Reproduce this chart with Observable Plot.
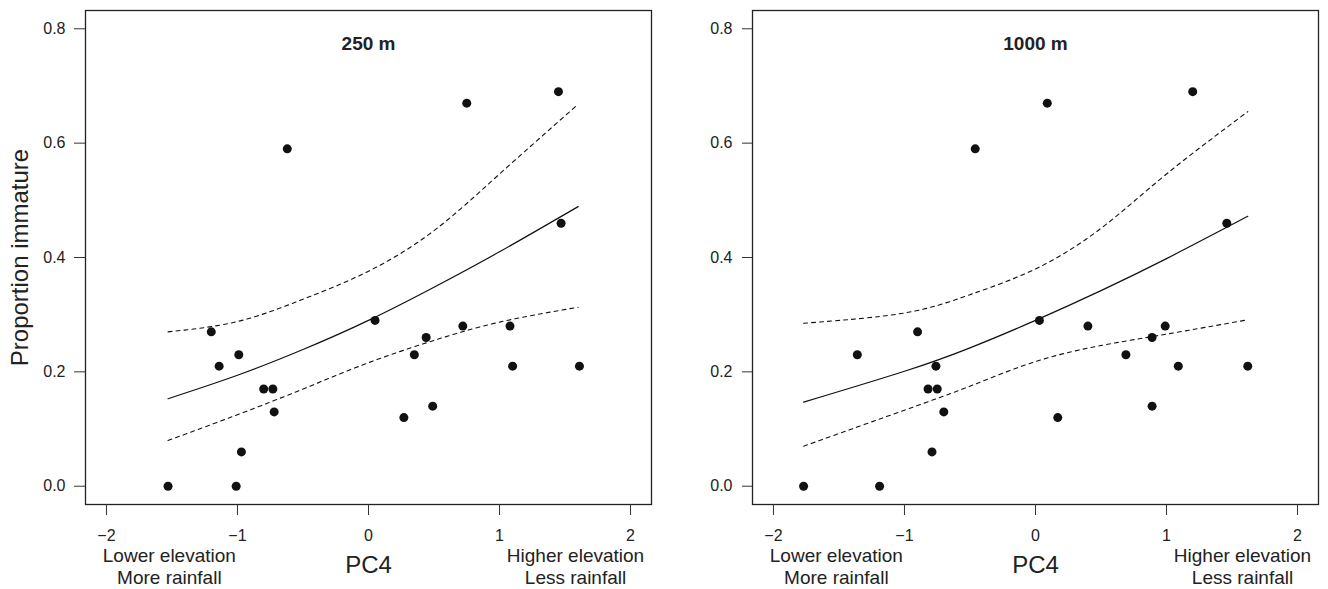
<!DOCTYPE html>
<html><head><meta charset="utf-8">
<script src="https://cdn.jsdelivr.net/npm/d3@7"></script>
<script src="https://cdn.jsdelivr.net/npm/@observablehq/plot@0.6"></script>
<style>
body{margin:0;background:#fff;}
#wrap{display:flex;width:1328px;height:589px;}
#wrap svg{display:block;}
</style></head><body><div id="wrap"></div>
<script>
// Tick values
const xTicks = [-2, -1, 0, 1, 2];
const yTicks = [0, 0.2, 0.4, 0.6, 0.8];
const panelTitles = ["250 m", "1000 m"];
const yLabel = "Proportion immature";
const xLabel = "PC4";
const lowLabels = ["Lower elevation", "More rainfall"];
const highLabels = ["Higher elevation", "Less rainfall"];

// 250 m panel: observed points
const pc4_250  = [-1.53, -1.01, -0.97, -1.20, -1.14, -0.99, -0.80, -0.73, -0.72, 0.05, 0.27, 0.49, 0.35, 0.44, 0.72, 1.08, 1.10, 1.61, -0.62, 0.75, 1.45, 1.47];
const prop_250 = [0, 0, 0.06, 0.27, 0.21, 0.23, 0.17, 0.17, 0.13, 0.29, 0.12, 0.14, 0.23, 0.26, 0.28, 0.28, 0.21, 0.21, 0.59, 0.67, 0.69, 0.46];
// 250 m panel: fitted curve and confidence band
const curveX_250 = [-1.53, -1.0, -0.5, 0, 0.5, 1.0, 1.6];
const fit_250    = [0.153, 0.194, 0.239, 0.29, 0.348, 0.41, 0.489];
const upper_250  = [0.27, 0.288, 0.327, 0.376, 0.447, 0.546, 0.668];
const lower_250  = [0.08, 0.125, 0.17, 0.216, 0.255, 0.287, 0.313];

// 1000 m panel: observed points
const pc4_1000  = [-1.77, -1.19, -1.36, -0.90, -0.76, -0.82, -0.75, -0.70, -0.79, 0.03, 0.17, 0.40, 0.69, 0.89, 0.89, 0.99, 1.09, 1.62, -0.46, 0.09, 1.20, 1.46];
const prop_1000 = [0, 0, 0.23, 0.27, 0.21, 0.17, 0.17, 0.13, 0.06, 0.29, 0.12, 0.28, 0.23, 0.26, 0.14, 0.28, 0.21, 0.21, 0.59, 0.67, 0.69, 0.46];
// 1000 m panel: fitted curve and confidence band
const curveX_1000 = [-1.77, -1.0, -0.5, 0, 0.5, 1.0, 1.62];
const fit_1000    = [0.147, 0.201, 0.242, 0.29, 0.342, 0.398, 0.472];
const upper_1000  = [0.285, 0.303, 0.335, 0.38, 0.451, 0.546, 0.655];
const lower_1000  = [0.07, 0.133, 0.175, 0.218, 0.246, 0.266, 0.291];

const FONT = "'Liberation Sans', Arial, Helvetica, sans-serif";

function panel({xs, ys, cx, fit, up, lo, title, ml, mr, tickSizeY, tickPadY, showYLabel}) {
  const pts = xs.map((x, i) => ({x, y: ys[i]}));
  const line = (vals) => cx.map((x, i) => ({x, y: vals[i]}));
  const marks = [
    Plot.frame({stroke: "#222", strokeWidth: 1.3}),
    Plot.axisX({ticks: xTicks, tickSize: 11, tickPadding: 14, fontSize: 16, tickFormat: d3.format("d"), label: null, stroke: "#333", fill: "#222"}),
    Plot.axisY({ticks: yTicks, tickSize: tickSizeY, tickPadding: tickPadY, fontSize: 16, tickFormat: d3.format(".1f"), label: null, stroke: "#333", fill: "#222"}),
    Plot.line(line(up), {x: "x", y: "y", curve: "natural", stroke: "#111", strokeWidth: 1.1, strokeDasharray: "4,4"}),
    Plot.line(line(lo), {x: "x", y: "y", curve: "natural", stroke: "#111", strokeWidth: 1.1, strokeDasharray: "4,4"}),
    Plot.line(line(fit), {x: "x", y: "y", curve: "natural", stroke: "#111", strokeWidth: 1.2}),
    Plot.dot(pts, {x: "x", y: "y", r: 4.5, fill: "#111", stroke: null}),
    Plot.text([title], {frameAnchor: "top", dy: 33, fontSize: 19, fontWeight: "bold", fill: "#222", lineAnchor: "middle"}),
    Plot.text([xLabel], {frameAnchor: "bottom", dy: 61, fontSize: 24, fill: "#222", lineAnchor: "middle"}),
    Plot.text([lowLabels[0]], {x: d => -1.52, frameAnchor: "bottom", dy: 51, fontSize: 19, fill: "#222", lineAnchor: "middle"}),
    Plot.text([lowLabels[1]], {x: d => -1.52, frameAnchor: "bottom", dy: 73, fontSize: 19, fill: "#222", lineAnchor: "middle"}),
    Plot.text([highLabels[0]], {x: d => 1.58, frameAnchor: "bottom", dy: 51, fontSize: 19, fill: "#222", lineAnchor: "middle"}),
    Plot.text([highLabels[1]], {x: d => 1.58, frameAnchor: "bottom", dy: 73, fontSize: 19, fill: "#222", lineAnchor: "middle"})
  ];
  if (showYLabel) marks.push(Plot.text([yLabel], {frameAnchor: "left", dx: -65, rotate: -90, textAnchor: "middle", fontSize: 24, fill: "#222", lineAnchor: "middle"}));
  return Plot.plot({
    width: 664, height: 589,
    marginTop: 10, marginBottom: 85, marginLeft: ml, marginRight: mr,
    x: {domain: [-2.16, 2.16]},
    y: {domain: [-0.032, 0.832]},
    style: {fontFamily: FONT, background: "#fff", color: "#222", overflow: "visible"},
    marks
  });
}

const wrap = document.getElementById("wrap");
wrap.append(panel({xs: pc4_250, ys: prop_250, cx: curveX_250, fit: fit_250, up: upper_250, lo: lower_250, title: panelTitles[0], ml: 85, mr: 13, tickSizeY: 11, tickPadY: 9, showYLabel: true}));
wrap.append(panel({xs: pc4_1000, ys: prop_1000, cx: curveX_1000, fit: fit_1000, up: upper_1000, lo: lower_1000, title: panelTitles[1], ml: 88, mr: 10, tickSizeY: 10, tickPadY: 10, showYLabel: false}));
</script>
</body></html>
